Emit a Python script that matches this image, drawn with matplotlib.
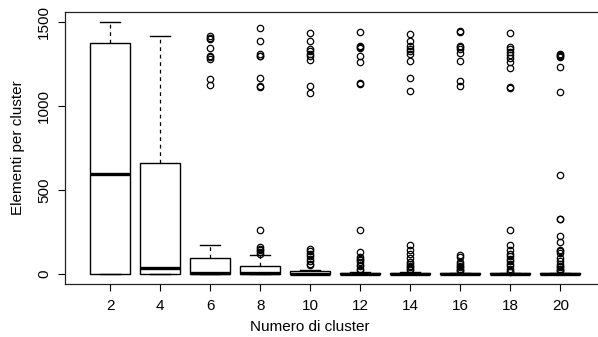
import matplotlib
matplotlib.use("Agg")
import matplotlib.pyplot as plt

plt.rcParams['font.family'] = ['Liberation Sans', 'DejaVu Sans']

clusters = [2, 4, 6, 8, 10, 12, 14, 16, 18, 20]
whislo = [0, 0, 0, 0, 0, 0, 0, 0, 0, 0]
q1 = [0, 0, 0, 0, 0, 0, 0, 0, 0, 0]
med = [595, 34, 5, 3, 2, 2, 2, 1, 1, 1]
q3 = [1375, 659, 93, 46, 20, 8, 6, 4, 3, 4]
whishi = [1500, 1420, 171, 113, 26, 14, 12, 8, 6, 8]

fliers_2 = []
fliers_4 = []
fliers_6 = [1420, 1408, 1400, 1345, 1300, 1290, 1280, 1160, 1125]
fliers_8 = [1465, 1385, 1310, 1300, 1295, 1165, 1120, 1115,
            264, 160, 150, 140, 130, 121]
fliers_10 = [1435, 1390, 1340, 1325, 1310, 1300, 1275, 1120, 1075,
             150, 135, 120, 105, 90, 75, 60, 52]
fliers_12 = [1440, 1355, 1350, 1345, 1300, 1260, 1135, 1130,
             260, 131, 98, 90, 80, 70, 55, 45, 32, 22]
fliers_14 = [1430, 1385, 1355, 1340, 1330, 1310, 1270, 1165, 1090,
             171, 145, 117, 92, 70, 60, 50, 40, 30, 22]
fliers_16 = [1445, 1440, 1360, 1350, 1340, 1315, 1270, 1150, 1120,
             115, 101, 70, 60, 50, 40, 30, 22, 15]
fliers_18 = [1435, 1350, 1340, 1320, 1305, 1285, 1260, 1225, 1113, 1108,
             260, 171, 140, 120, 105, 90, 75, 60, 45, 30, 18, 10]
fliers_20 = [1310, 1302, 1295, 1290, 1232, 1085, 590, 330, 325,
             226, 190, 145, 135, 125, 92, 75, 62, 50, 42, 32, 22, 15]
fliers = [fliers_2, fliers_4, fliers_6, fliers_8, fliers_10,
          fliers_12, fliers_14, fliers_16, fliers_18, fliers_20]

stats = []
for i, c in enumerate(clusters):
    stats.append(dict(whislo=whislo[i], q1=q1[i], med=med[i], q3=q3[i],
                      whishi=whishi[i], fliers=fliers[i], label=str(c)))

W, H = 598, 337
fig = plt.figure(figsize=(W / 100, H / 100), dpi=100)
left, right, top, bottom = 65.0, 605.5, 12.0, 284.0
ax = fig.add_axes([left / W, (H - bottom) / H, (right - left) / W, (bottom - top) / H])

positions = list(range(1, len(clusters) + 1))
ax.bxp(stats, positions=positions, widths=0.8, patch_artist=True,
       boxprops=dict(facecolor='white', edgecolor='black', linewidth=1.0),
       medianprops=dict(color='black', linewidth=2.4, solid_capstyle='butt'),
       whiskerprops=dict(color='black', linewidth=0.9, linestyle=(0, (3, 3))),
       capprops=dict(color='black', linewidth=1.0),
       capwidths=0.4,
       flierprops=dict(marker='o', markerfacecolor='none', markeredgecolor='black',
                       markersize=4.6, markeredgewidth=0.9, linestyle='none'))

ax.set_xlim(0.1, 10.9)
ax.set_ylim(-60, 1560)
ax.set_xticks(positions)
ax.set_xticklabels([str(c) for c in clusters], fontsize=11)
ax.set_yticks([0, 500, 1000, 1500])
ax.set_yticklabels(['0', '500', '1000', '1500'], fontsize=11, rotation=90, va='center')
ax.tick_params(axis='both', direction='out', length=5, width=0.8, color='black')
ax.tick_params(axis='x', pad=6)
ax.tick_params(axis='y', pad=5)
for s in ax.spines.values():
    s.set_linewidth(0.9)
    s.set_color('#222222')
ax.spines['right'].set_visible(False)

fig.text(18 / W, 1 - 148 / H, 'Elementi per cluster', rotation=90, fontsize=11,
         ha='center', va='center')
fig.text(310 / W, 1 - 327 / H, 'Numero di cluster', fontsize=11, ha='center', va='center')

fig.savefig('out.png', dpi=100)
